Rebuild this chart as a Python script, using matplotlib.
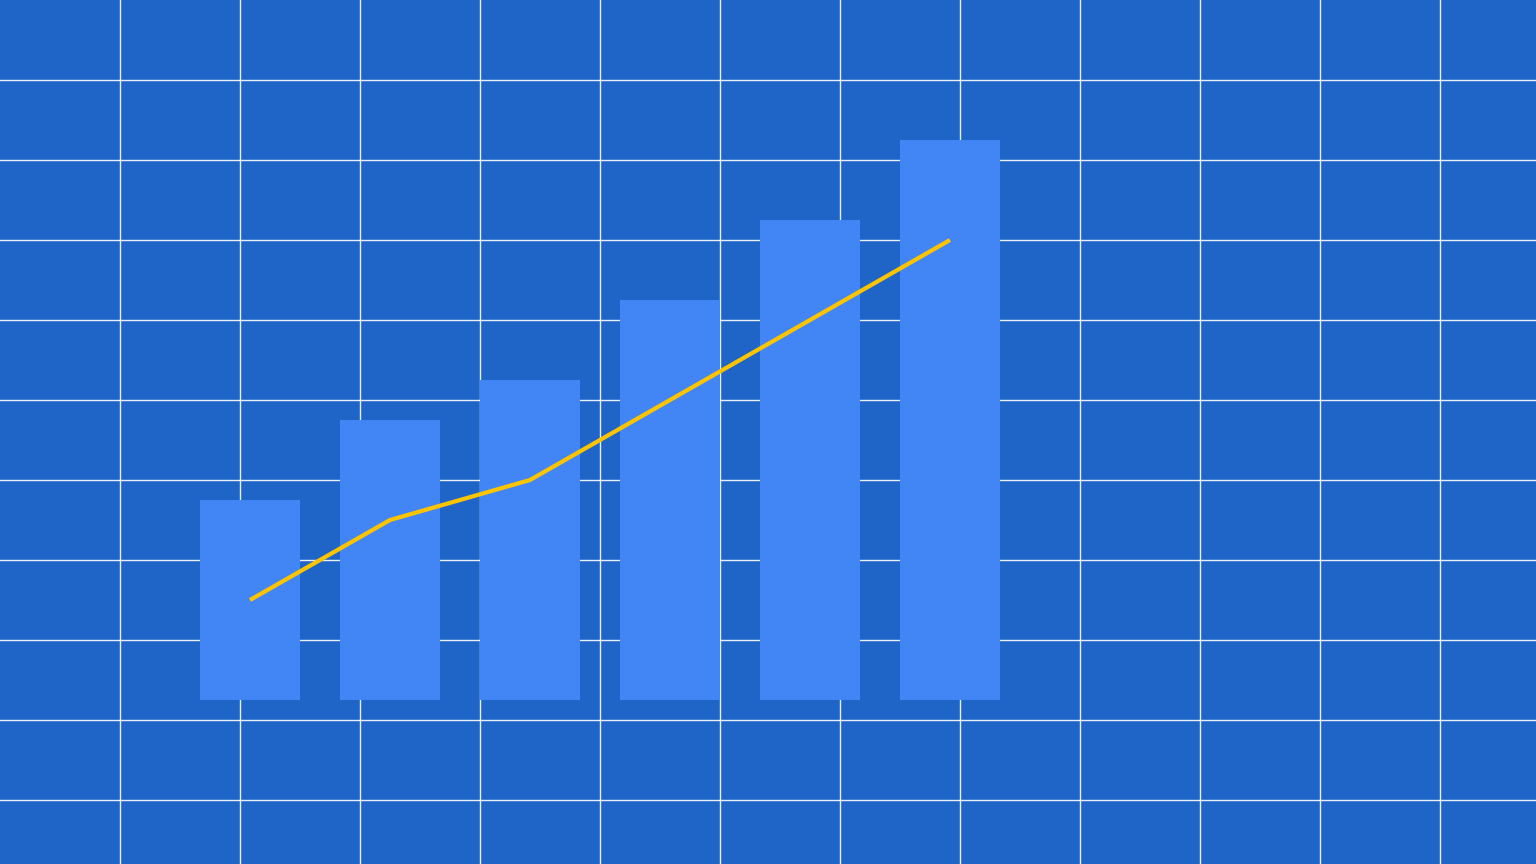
import numpy as np
import matplotlib
matplotlib.use("Agg")
import matplotlib.pyplot as plt

# Chart data (value units = one grid row)
categories = ["A", "B", "C", "D", "E", "F"]
bar_values = [2.5, 3.5, 4.0, 5.0, 6.0, 7.0]
line_values = [1.25, 2.25, 2.75, 3.75, 4.75, 5.75]

bg_color = "#1F65C8"
bar_color = "#4285F4"
line_color = "#FFC400"

fig = plt.figure(figsize=(15.36, 8.64), dpi=100)
fig.patch.set_facecolor(bg_color)
ax = fig.add_axes([0, 0, 1, 1])
ax.set_facecolor(bg_color)

x = np.arange(len(categories))
# one category step = 140 px, one value unit = 80 px
ax.set_xlim(-250 / 140, (1536 - 250) / 140)
ax.set_ylim(-164 / 80, 700 / 80)

# grid: every 120 px across, every 80 px down
ax.set_xticks([(120 * k - 250) / 140 for k in range(1, 13)])
ax.set_yticks([7.75 - k for k in range(10)])
ax.grid(True, color="white", linewidth=1, alpha=0.9)
ax.set_axisbelow(True)
ax.tick_params(length=0, labelbottom=False, labelleft=False)
for s in ax.spines.values():
    s.set_visible(False)

ax.bar(x, bar_values, width=100 / 140, color=bar_color, zorder=2)
ax.plot(x, line_values, color=line_color, linewidth=3, solid_capstyle="butt",
        solid_joinstyle="miter", zorder=3)

fig.savefig("out.png", dpi=100, facecolor=bg_color)
